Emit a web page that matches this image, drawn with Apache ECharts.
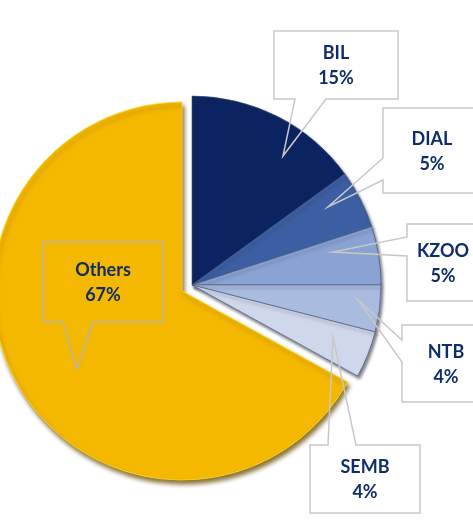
<!DOCTYPE html>
<html>
<head>
<meta charset="utf-8">
<script src="https://cdn.jsdelivr.net/npm/echarts@6/dist/echarts.min.js"></script>
<style>
  html, body { margin: 0; padding: 0; background: #fff; }
  #main { width: 473px; height: 529px; }
</style>
</head>
<body>
<div id="main"></div>
<script>
// data
const names = ["BIL", "DIAL", "KZOO", "NTB", "SEMB", "Others"];
const shares = [15, 5, 5, 4, 4, 67];
const colors = ["#0b2461", "#3c5ea3", "#8aa3d3", "#a9bbdf", "#cfd8ea", "#f5b800"];

// callouts: box [left, top, right, bottom], text centre, which edge the pointer leaves from,
// the two pointer base points along that edge and the pointer tip
const callouts = {
  BIL:    { box: [274, 31, 398, 99],   text: [336, 66],  edge: "bottom", base: [295, 326], tip: [283, 156] },
  DIAL:   { box: [383, 108, 520, 193], text: [432, 152], edge: "left",   base: [158, 180], tip: [328, 207] },
  KZOO:   { box: [407, 224, 520, 301], text: [443, 264], edge: "left",   base: [237, 256], tip: [333, 252] },
  NTB:    { box: [402, 325, 520, 402], text: [446, 365], edge: "left",   base: [340, 362], tip: [358, 300] },
  SEMB:   { box: [310, 445, 420, 513], text: [365, 480], edge: "top",    base: [328, 356], tip: [333, 337] },
  Others: { box: [43, 242, 163, 322],  text: [103, 283], edge: "bottom", base: [63, 93],   tip: [77, 369] }
};

const CENTER = [192, 285];
const RADIUS = 189;
const hidden = { color: "transparent", borderWidth: 0, shadowBlur: 0, shadowColor: "transparent" };

// outline of a callout box with its pointer, clockwise from the top-left corner
function calloutPoints(c) {
  const [l, t, r, b] = c.box;
  const [p, q] = c.base;
  if (c.edge === "top") return [[l, t], [p, t], c.tip, [q, t], [r, t], [r, b], [l, b]];
  if (c.edge === "bottom") return [[l, t], [r, t], [r, b], [q, b], c.tip, [p, b], [l, b]];
  return [[l, t], [r, t], [r, b], [l, b], [l, q], c.tip, [l, p]];
}

// white box fill, then the outline with the open pointer on top of it
const calloutShapes = [];
names.forEach((n) => {
  const c = callouts[n];
  if (n !== "Others") {
    calloutShapes.push({
      type: "rect",
      silent: true,
      z: 10,
      shape: { x: c.box[0], y: c.box[1], width: c.box[2] - c.box[0], height: c.box[3] - c.box[1] },
      style: { fill: "#fff" }
    });
  }
  calloutShapes.push({
    type: "polygon",
    silent: true,
    z: 11,
    shape: { points: calloutPoints(c) },
    style: { fill: null, stroke: n === "Others" ? "#b9b3a6" : "#c8c8c8", lineWidth: 1.5 }
  });
});

const chart = echarts.init(document.getElementById("main"));

// one pie draws only the wanted slices, the rest are left transparent
const sliceData = (keep, style) =>
  names.map((n, i) => ({
    name: n,
    value: shares[i],
    itemStyle: keep(n) ? Object.assign({ color: colors[i] }, style) : hidden
  }));

const basePie = {
  type: "pie",
  radius: RADIUS,
  startAngle: 90,
  clockwise: true,
  silent: true,
  emphasis: { disabled: true },
  label: { show: false },
  labelLine: { show: false }
};

chart.setOption({
  animation: false,
  graphic: { elements: calloutShapes },
  series: [
    // Others, pulled out a little to the lower left
    Object.assign({}, basePie, {
      z: 1,
      center: [CENTER[0] - 10, CENTER[1] + 6],
      data: sliceData((n) => n === "Others", {
        borderColor: "rgba(255,220,40,0.8)",
        borderWidth: 1,
        shadowBlur: 4,
        shadowColor: "rgba(110,80,0,0.8)",
        shadowOffsetX: 2,
        shadowOffsetY: 4
      })
    }),
    // blue slices
    Object.assign({}, basePie, {
      z: 2,
      center: CENTER,
      data: sliceData((n) => n !== "Others", {
        borderColor: "rgba(70,85,120,0.6)",
        borderWidth: 1,
        shadowBlur: 3,
        shadowColor: "rgba(40,45,60,0.6)",
        shadowOffsetX: 2,
        shadowOffsetY: 3
      })
    }),
    // callout texts, above the boxes
    Object.assign({}, basePie, {
      z: 20,
      center: CENTER,
      avoidLabelOverlap: false,
      label: {
        show: true,
        position: "outside",
        formatter: "{b}\n{c}%",
        color: "#0f2d6c",
        fontFamily: "Lato",
        fontWeight: "bold",
        fontSize: 18,
        lineHeight: 25,
        align: "center"
      },
      labelLayout: function (params) {
        const c = callouts[names[params.dataIndex]];
        return { x: c.text[0], y: c.text[1], align: "center", verticalAlign: "middle" };
      },
      data: names.map((n, i) => ({ name: n, value: shares[i], itemStyle: hidden }))
    })
  ]
});
</script>
</body>
</html>
